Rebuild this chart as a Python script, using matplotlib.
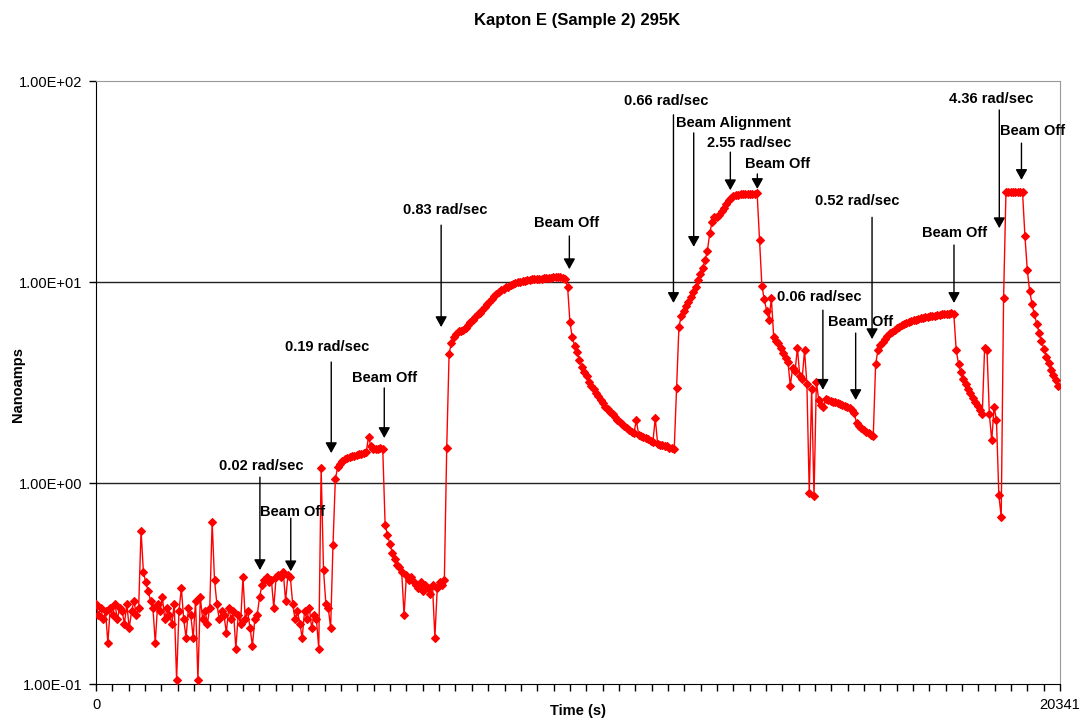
import numpy as np
import matplotlib.pyplot as plt
from matplotlib.ticker import FuncFormatter, NullLocator, FixedLocator

plt.rcParams['font.family'] = ['Liberation Sans', 'DejaVu Sans']

# photocurrent readings (nA), one every 50 s, grouped by beam state
SAMPLE_S = 50
background = [0.25, 0.22, 0.24, 0.21, 0.23, 0.16, 0.24, 0.22, 0.25, 0.21,
              0.24, 0.23, 0.20, 0.25, 0.19, 0.23, 0.26, 0.22, 0.24, 0.58,
              0.36, 0.32, 0.29, 0.26, 0.24, 0.16, 0.25, 0.23, 0.27, 0.21,
              0.24, 0.22, 0.20, 0.25, 0.105, 0.23, 0.30, 0.21, 0.17, 0.24,
              0.22, 0.17, 0.26, 0.105, 0.27, 0.21, 0.23, 0.20, 0.24, 0.64,
              0.33, 0.25, 0.21, 0.23, 0.22, 0.18, 0.24, 0.21, 0.23, 0.15,
              0.22, 0.20, 0.34, 0.21, 0.23, 0.19, 0.155, 0.21, 0.22]
run_002 = [0.27, 0.31, 0.33, 0.34, 0.32, 0.33, 0.24, 0.34, 0.35, 0.34,
           0.36, 0.26, 0.35, 0.34]
off_002 = [0.25, 0.21, 0.23, 0.20, 0.17, 0.23, 0.21, 0.24, 0.19, 0.22,
           0.21, 0.15, 1.19, 0.37, 0.25, 0.24, 0.19]
run_019 = [0.49, 1.05, 1.20, 1.25, 1.28, 1.31, 1.33, 1.34, 1.36, 1.37,
           1.38, 1.39, 1.40, 1.41, 1.42, 1.70, 1.52, 1.47, 1.48, 1.48,
           1.49, 1.48]
off_019 = [0.62, 0.55, 0.50, 0.45, 0.42, 0.39, 0.38, 0.36, 0.22, 0.35,
           0.33, 0.34, 0.32, 0.31, 0.30, 0.32, 0.29, 0.31, 0.30, 0.28,
           0.31, 0.17, 0.30, 0.32, 0.31, 0.33]
run_083 = [1.50, 4.40, 5.0, 5.3, 5.5, 5.7, 5.7, 5.75, 5.9, 6.1,
           6.3, 6.5, 6.7, 6.9, 7.05, 7.3, 7.55, 7.8, 8.0, 8.2,
           8.5, 8.7, 8.9, 9.1, 9.25, 9.4, 9.5, 9.65, 9.8, 9.9,
           10.0, 10.05, 10.1, 10.15, 10.2, 10.25, 10.3, 10.3, 10.35, 10.4,
           10.4, 10.45, 10.45, 10.5, 10.5, 10.55, 10.6, 10.6, 10.6, 10.5,
           10.4]
off_083 = [9.5, 6.3, 5.3, 4.8, 4.5, 4.1, 3.8, 3.55, 3.4, 3.2,
           3.05, 2.95, 2.82, 2.7, 2.6, 2.5, 2.4, 2.33, 2.26, 2.2,
           2.13, 2.07, 2.02, 1.97, 1.92, 1.88, 1.84, 1.8, 1.77, 2.05,
           1.74, 1.71, 1.69, 1.67, 1.65, 1.62, 1.60, 2.1, 1.57, 1.55,
           1.55, 1.53, 1.52, 1.5, 1.49, 1.47]
run_066_255 = [2.96, 6.0, 6.8, 7.2, 7.6, 8.0, 8.4, 8.9, 9.5, 10.2,
               11.0, 11.8, 12.8, 14.3, 17.5, 20.0, 21.0, 21.0, 21.5, 22.5,
               23.3, 24.5, 25.6, 26.3, 26.8, 27.1, 27.2, 27.3, 27.3, 27.4,
               27.4, 27.4, 27.4, 27.5, 27.6]
off_255 = [16.2, 9.6, 8.2, 7.2, 6.5, 8.3, 5.3, 5.1, 4.95, 4.7,
           4.45, 4.2, 4.0, 3.05, 3.75, 3.6, 4.7, 3.4, 3.3, 4.57,
           3.1, 0.89, 2.95, 0.86, 3.2]
run_006 = [2.58, 2.45, 2.4, 2.62, 2.6, 2.57, 2.54, 2.52, 2.49, 2.47,
           2.45, 2.43, 2.4, 2.37, 2.32, 2.22]
off_006 = [1.98, 1.93, 1.88, 1.84, 1.8, 1.77, 1.74, 1.71]
run_052 = [3.9, 4.6, 4.85, 5.05, 5.2, 5.4, 5.55, 5.65, 5.8, 5.9,
           6.0, 6.1, 6.2, 6.25, 6.35, 6.4, 6.45, 6.5, 6.55, 6.6,
           6.65, 6.7, 6.72, 6.75, 6.78, 6.8, 6.85, 6.88, 6.9, 6.92,
           6.95, 6.97, 7.0, 6.9]
off_052 = [4.6, 3.9, 3.55, 3.3, 3.1, 2.95, 2.8, 2.65, 2.52, 2.42,
           2.3, 2.2, 4.7, 4.6, 2.2, 1.63, 2.4, 2.05, 0.87, 0.68]
run_436 = [8.3, 28.0, 28.0, 28.0, 28.0, 28.0, 28.0, 28.0, 28.0]
off_436 = [17.0, 11.5, 9.0, 7.8, 6.9, 6.2, 5.6, 5.1, 4.65, 4.25,
           3.95, 3.65, 3.45, 3.25, 3.05]

T_END = 20341

# label, text position, arrow tail, arrow head (axes fraction)
events = [
    ('0.02 rad/sec', (0.171, 0.362), (0.170, 0.343), (0.170, 0.189)),
    ('Beam Off', (0.204, 0.285), (0.202, 0.275), (0.202, 0.187)),
    ('0.19 rad/sec', (0.240, 0.559), (0.244, 0.534), (0.244, 0.383)),
    ('Beam Off', (0.299, 0.507), (0.299, 0.491), (0.299, 0.408)),
    ('0.83 rad/sec', (0.362, 0.786), (0.358, 0.761), (0.358, 0.592)),
    ('Beam Off', (0.488, 0.764), (0.491, 0.743), (0.491, 0.688)),
    ('0.66 rad/sec', (0.591, 0.967), (0.599, 0.944), (0.599, 0.632)),
    ('Beam Alignment', (0.661, 0.930), (0.620, 0.914), (0.620, 0.725)),
    ('2.55 rad/sec', (0.677, 0.897), (0.658, 0.882), (0.658, 0.819)),
    ('Beam Off', (0.707, 0.862), (0.686, 0.846), (0.686, 0.821)),
    ('0.52 rad/sec', (0.790, 0.801), (0.805, 0.774), (0.805, 0.572)),
    ('0.06 rad/sec', (0.750, 0.642), (0.754, 0.620), (0.754, 0.488)),
    ('Beam Off', (0.793, 0.600), (0.788, 0.582), (0.788, 0.471)),
    ('Beam Off', (0.891, 0.748), (0.890, 0.728), (0.890, 0.632)),
    ('4.36 rad/sec', (0.929, 0.970), (0.937, 0.952), (0.937, 0.756)),
    ('Beam Off', (0.971, 0.917), (0.960, 0.897), (0.960, 0.836)),
]

current = np.concatenate([background, run_002, off_002, run_019, off_019,
                          run_083, off_083, run_066_255, off_255, run_006,
                          off_006, run_052, off_052, run_436, off_436])
time_s = np.arange(len(current)) * SAMPLE_S

fig = plt.figure(figsize=(10.9, 7.23), dpi=100)
ax = fig.add_axes([0.0881, 0.0539, 0.8844, 0.834])

ax.plot(time_s, current, color='#ff0000', lw=1.0, marker='D',
        markersize=3.6, markeredgewidth=0.8, zorder=3)

ax.set_yscale('log')
ax.set_ylim(0.1, 100)
ax.set_xlim(0, T_END)
ax.set_yticks([0.1, 1, 10, 100])
ax.yaxis.set_minor_locator(NullLocator())
ax.yaxis.set_major_formatter(FuncFormatter(lambda v, _: f'{v:.2E}'))
ax.set_xticks([0, T_END])
ax.set_xticklabels(['0', str(T_END)])
ax.xaxis.set_minor_locator(FixedLocator(np.linspace(0, T_END, 60)))
ax.tick_params(axis='both', which='both', direction='out', length=5,
               width=1, color='black', labelsize=10.5, pad=5)

for y in (1, 10):
    ax.axhline(y, color='#222222', lw=1, zorder=1)
ax.spines['top'].set_color('#999999')
ax.spines['right'].set_color('#999999')
for s in ('left', 'bottom'):
    ax.spines[s].set_color('black')

for label, txt, tail, head in events:
    ax.annotate('', xy=head, xytext=tail, xycoords='axes fraction',
                arrowprops=dict(arrowstyle='-|>,head_length=0.45,head_width=0.25',
                                color='black', lw=1, mutation_scale=14,
                                shrinkA=0, shrinkB=0), zorder=4)
    ax.text(*txt, label, transform=ax.transAxes, ha='center', va='center',
            fontsize=10.5, fontweight='bold', zorder=5)

fig.text(0.5294, 0.972, 'Kapton E (Sample 2) 295K', ha='center',
         va='center', fontsize=12, fontweight='bold')
fig.text(0.530, 0.016, 'Time (s)', ha='center', va='center',
         fontsize=10.5, fontweight='bold')
fig.text(0.0165, 0.468, 'Nanoamps', ha='center', va='center',
         rotation=90, fontsize=10.5, fontweight='bold')

fig.savefig('out.png', dpi=100)
